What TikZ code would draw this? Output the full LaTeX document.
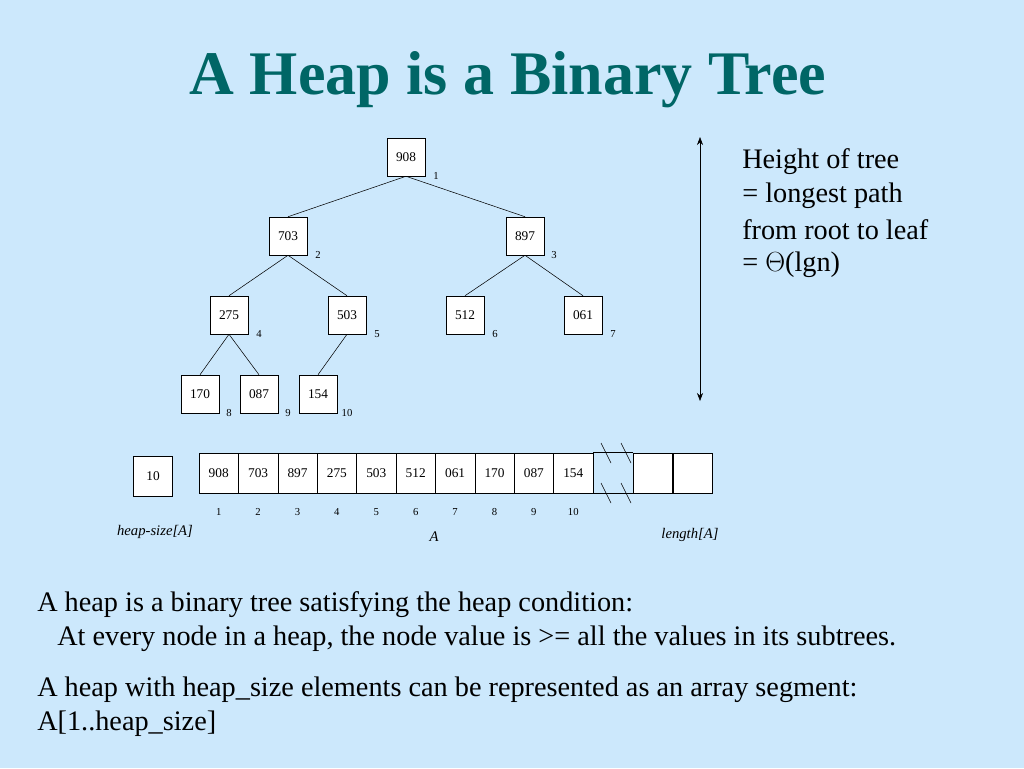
\documentclass[tikz,border=0pt]{standalone}
\usepackage{fontspec}
\setmainfont{Liberation Serif}
\usetikzlibrary{arrows.meta}
\definecolor{bg}{RGB}{204,232,252}
\definecolor{ttl}{RGB}{0,102,102}
\begin{document}
\begin{tikzpicture}[x=0.75pt,y=-0.75pt,
  tn/.style={draw,fill=white,minimum size=28.5pt,inner sep=0pt,font=\fontsize{10}{12}\selectfont},
  cell/.style={draw,fill=white,minimum width=29.5pt,minimum height=30pt,inner sep=0pt,font=\fontsize{10}{12}\selectfont},
  idx/.style={font=\fontsize{8}{10}\selectfont},
  body/.style={font=\fontsize{21.2}{25}\selectfont,anchor=west,inner sep=0pt},
  lbl/.style={font=\fontsize{11}{13}\selectfont\itshape}]
\fill[bg] (0,0) rectangle (1024,768);
\useasboundingbox (0,0) rectangle (1024,768);
\node[font=\fontsize{46.5}{52}\selectfont\bfseries,text=ttl] (title) at (508,80) {A Heap is a Binary Tree};
% tree
\node[tn] (n1) at (406,157) {908};
\node[tn] (n2) at (288,236) {703};
\node[tn] (n3) at (525,236) {897};
\node[tn] (n4) at (229,315) {275};
\node[tn] (n5) at (347,315) {503};
\node[tn] (n6) at (465,315) {512};
\node[tn] (n7) at (583,315) {061};
\node[tn] (n8) at (200,394) {170};
\node[tn] (n9) at (259,394) {087};
\node[tn] (n10) at (318,394) {154};
\foreach \i/\x/\y in {1/436/176,2/318/255,3/554/255,4/259/334,5/377/334,6/495/334,7/613/334,8/229/413,9/288/413,10/347/413}
  \node[idx] (i\i) at (\x,\y) {\i};
\foreach \a/\b in {1/2,1/3,2/4,2/5,3/6,3/7,4/8,4/9,5/10}
  \draw (n\a.south) -- (n\b.north);
% height arrow
\coordinate (ht) at (700,137);
\coordinate (hb) at (700,401);
\draw[{Stealth[length=6pt]}-{Stealth[length=6pt]}] (ht) -- (hb);
\node[body] (h1) at (742,162) {Height of tree};
\node[body] (h2) at (742,196) {= longest path};
\node[body] (h3) at (742,230) {from root to leaf};
\node[body] (h4) at (742,265) {= $\Theta$(lgn)};
% array
\node[cell] (hs) at (153,476) {10};
\foreach \v [count=\i] in {908,703,897,275,503,512,061,170,087,154}{
  \node[cell] (a\i) at ({199+19.7+39.4*(\i-1)},473) {\v};
  \node[idx] (ai\i) at ({199+19.7+39.4*(\i-1)},512) {\i};
}
\node[cell] (e1) at (653,473) {};
\node[cell] (e2) at (692.5,473) {};
\draw (a10.north east) -- (e1.north west) (a10.south east) -- (e1.south west);
\foreach \x in {601,621}{
  \draw (\x,443) -- ++(10,20);
  \draw (\x,483) -- ++(10,20);
}
\node[lbl] (lhs) at (155,532) {heap-size[A]};
\node[lbl] (lA) at (434,537) {A};
\node[lbl] (lL) at (690,535) {length[A]};
% text
\node[body] (t1) at (37,605) {A heap is a binary tree satisfying the heap condition:};
\node[body] (t2) at (57,639) {At every node in a heap, the node value is >= all the values in its subtrees.};
\node[body] (t3) at (37,690) {A heap with heap\_size elements can be represented as an array segment:};
\node[body] (t4) at (37,724) {A[1..heap\_size]};
\end{tikzpicture}
\end{document}
